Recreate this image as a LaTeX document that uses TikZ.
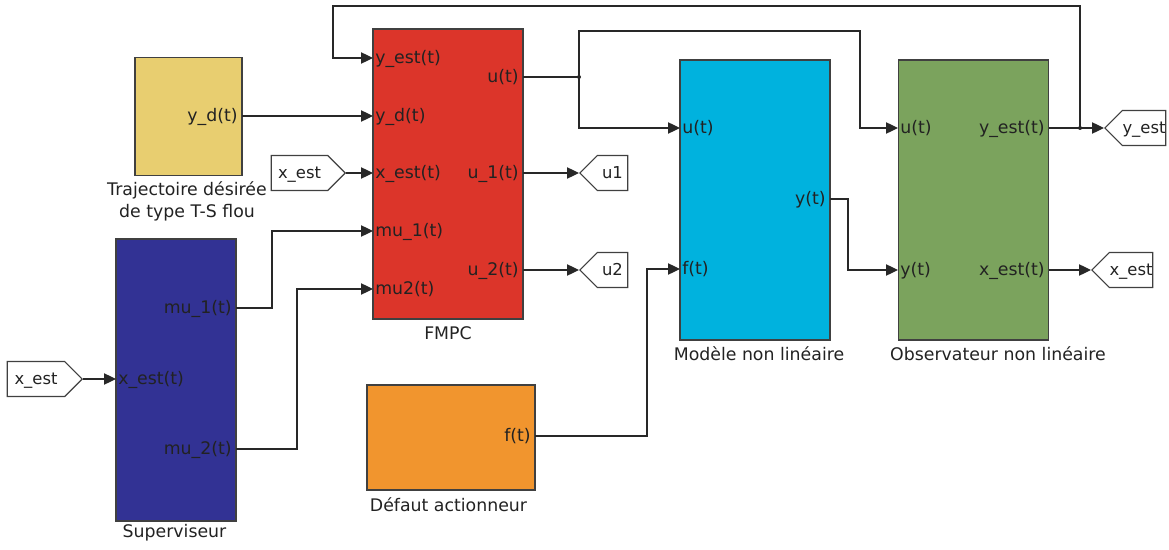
\documentclass[tikz,border=0pt]{standalone}
\usepackage{fontspec}
\setmainfont{DejaVu Sans}
\usetikzlibrary{arrows.meta,shapes.symbols}

\definecolor{trajfill}{RGB}{232,206,112}
\definecolor{fmpcfill}{RGB}{220,53,42}
\definecolor{modfill}{RGB}{0,178,222}
\definecolor{obsfill}{RGB}{123,163,93}
\definecolor{supfill}{RGB}{50,50,148}
\definecolor{deffill}{RGB}{241,149,46}
\definecolor{edgegray}{RGB}{64,64,64}
\definecolor{wiregray}{RGB}{40,40,40}
\definecolor{txtgray}{RGB}{34,34,34}

\begin{document}
\begin{tikzpicture}[x=0.75pt,y=0.75pt,yscale=-1,xscale=1,
  every node/.style={font=\fontsize{13}{16.5}\selectfont, text=txtgray},
  block/.style={draw=edgegray, line width=1pt, inner sep=0pt},
  inport/.style={anchor=west, inner xsep=1.5pt, inner ysep=0pt, text height=1em, text depth=0.2em},
  outport/.style={inport, anchor=east, inner xsep=3pt},
  wire/.style={draw=wiregray, line width=0.9pt},
  sig/.style={wire, -{Triangle[length=9pt,width=8.5pt]}},
  fromtag/.style={signal, signal to=east, signal pointer angle=90, draw=edgegray, line width=0.8pt, fill=white, inner xsep=0pt, inner ysep=1pt, text height=0.95em, text depth=0.2em, minimum height=35*0.75pt, font=\fontsize{12.3}{15}\selectfont},
  gototag/.style={fromtag, signal to=west}
]
\path[use as bounding box] (0,0) rectangle (1169,549);

%Shape: Rectangle [Trajectoire]
\node[block, fill=trajfill, minimum width=107*0.75pt, minimum height=118*0.75pt] (traj) at (188.5,116.5) {};
\node[align=center] (trajlbl) at (187,201) {Trajectoire désirée\\de type T-S flou};
\node[outport] (traj-yd) at (242,116) {y\_d(t)};

%Shape: Rectangle [FMPC]
\node[block, fill=fmpcfill, minimum width=150*0.75pt, minimum height=290*0.75pt] (fmpc) at (448,174) {};
\node (fmpclbl) at (448,333) {FMPC};
\node[inport] (fmpc-yest) at (373,58) {y\_est(t)};
\node[inport] (fmpc-yd) at (373,116) {y\_d(t)};
\node[inport] (fmpc-xest) at (373,173) {x\_est(t)};
\node[inport] (fmpc-mu1) at (373,231) {mu\_1(t)};
\node[inport] (fmpc-mu2) at (373,289) {mu2(t)};
\node[outport] (fmpc-u) at (523,77) {u(t)};
\node[outport] (fmpc-u1) at (523,173) {u\_1(t)};
\node[outport] (fmpc-u2) at (523,270) {u\_2(t)};

%Shape: Rectangle [Modele]
\node[block, fill=modfill, minimum width=150*0.75pt, minimum height=280*0.75pt] (mod) at (755,200) {};
\node (modlbl) at (759,354) {Modèle non linéaire};
\node[inport] (mod-u) at (680,128) {u(t)};
\node[inport] (mod-f) at (680,269) {f(t)};
\node[outport] (mod-y) at (830,199) {y(t)};

%Shape: Rectangle [Observateur]
\node[block, fill=obsfill, minimum width=150*0.75pt, minimum height=280*0.75pt] (obs) at (973.5,200) {};
\node (obslbl) at (998,354) {Observateur non linéaire};
\node[inport] (obs-u) at (898,128) {u(t)};
\node[inport] (obs-y) at (898,270) {y(t)};
\node[outport] (obs-yest) at (1049,128) {y\_est(t)};
\node[outport] (obs-xest) at (1049,270) {x\_est(t)};

%Shape: Rectangle [Superviseur]
\node[block, fill=supfill, minimum width=120*0.75pt, minimum height=282*0.75pt] (sup) at (176,380) {};
\node (suplbl) at (174.5,533) {Superviseur};
\node[inport] (sup-xest) at (116,379) {x\_est(t)};
\node[outport] (sup-mu1) at (236,308) {mu\_1(t)};
\node[outport] (sup-mu2) at (236,449) {mu\_2(t)};

%Shape: Rectangle [Defaut]
\node[block, fill=deffill, minimum width=168*0.75pt, minimum height=105*0.75pt] (def) at (451,437.5) {};
\node (deflbl) at (448.5,505) {Défaut actionneur};
\node[outport] (def-f) at (535,436) {f(t)};

%Tags
\node[fromtag, minimum width=74*0.75pt, anchor=east] (xtag1) at (346,173) {x\_est};
\node[fromtag, minimum width=75*0.75pt, anchor=east] (xtag2) at (83,379) {x\_est};
\node[gototag, minimum width=48*0.75pt, anchor=west] (u1tag) at (579,173) {u1};
\node[gototag, minimum width=48*0.75pt, anchor=west] (u2tag) at (579,270) {u2};
\node[gototag, minimum width=61*0.75pt, anchor=west] (ytag) at (1104,128) {y\_est};
\node[gototag, minimum width=61*0.75pt, anchor=west] (xtag3) at (1091,270) {x\_est};

%Branch points
\coordinate (ju) at (579,77);
\coordinate (jy) at (1080,128);
\fill[wiregray] (ju) circle (2);
\fill[wiregray] (jy) circle (2);

%Straight Lines
\draw[sig] (traj-yd.east) -- (fmpc-yd.west);
\draw[sig] (xtag1.east) -- (fmpc-xest.west);
\draw[sig] (xtag2.east) -- (sup-xest.west);
\draw[sig] (sup-mu1.east) -- +(36,0) |- (fmpc-mu1.west);
\draw[sig] (sup-mu2.east) -- +(61,0) |- (fmpc-mu2.west);
\draw[sig] (fmpc-u1.east) -- (u1tag.west);
\draw[sig] (fmpc-u2.east) -- (u2tag.west);
\draw[wire] (fmpc-u.east) -- (ju);
\draw[sig] (ju) |- (mod-u.west);
\draw[sig] (ju) |- (860,31) |- (obs-u.west);
\draw[sig] (def-f.east) -- +(112,0) |- (mod-f.west);
\draw[sig] (mod-y.east) -- +(18,0) |- (obs-y.west);
\draw[sig] (obs-yest.east) -- (ytag.west);
\draw[sig] (jy) |- (333,6) |- (fmpc-yest.west);
\draw[sig] (obs-xest.east) -- (xtag3.west);

\end{tikzpicture}
\end{document}
